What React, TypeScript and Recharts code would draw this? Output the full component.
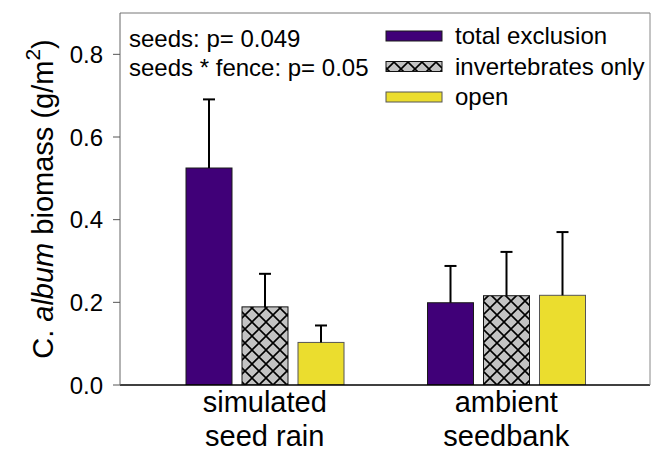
import { BarChart, Bar, XAxis, YAxis, Legend } from 'recharts'

const categoryLines = [
  ['simulated', 'seed rain'],
  ['ambient', 'seedbank'],
]

const totalExclusion = [0.525, 0.199]
const totalExclusionErr = [0.166, 0.089]
const invertebratesOnly = [0.189, 0.216]
const invertebratesOnlyErr = [0.08, 0.106]
const openPlots = [0.103, 0.217]
const openPlotsErr = [0.041, 0.153]

const yTicks = [0, 0.2, 0.4, 0.6, 0.8]
const statLines = ['seeds: p= 0.049', 'seeds * fence: p= 0.05']

const FONT = '"Liberation Sans", Arial, sans-serif'

const series = [
  { key: 'excl', name: 'total exclusion', fill: '#400078', stroke: '#1a1a1a' },
  { key: 'inv', name: 'invertebrates only', fill: 'url(#xhatch)', stroke: '#111' },
  { key: 'open', name: 'open', fill: '#ebdd2e', stroke: '#555' },
]

const data = categoryLines.map((lines, i) => ({
  cat: lines.join(' '),
  excl: totalExclusion[i],
  exclErr: totalExclusionErr[i],
  inv: invertebratesOnly[i],
  invErr: invertebratesOnlyErr[i],
  open: openPlots[i],
  openErr: openPlotsErr[i],
}))

// bar rect plus upward whisker, scaled from the bar's own geometry
function barWithError(key: string, fill: string, stroke: string) {
  return (props: any) => {
    const { x, y, width, height, payload } = props
    const v = payload[key]
    const e = payload[key + 'Err']
    const pxPerUnit = v ? height / v : 0
    const top = y - e * pxPerUnit
    const cx = x + width / 2
    return (
      <g>
        <rect x={x} y={y} width={width} height={height} fill={fill} stroke={stroke} strokeWidth={1} />
        <line x1={cx} y1={y} x2={cx} y2={top} stroke="#000" strokeWidth={2} />
        <line x1={cx - 6} y1={top} x2={cx + 6} y2={top} stroke="#000" strokeWidth={2} />
      </g>
    )
  }
}

function XTick(props: any) {
  const { x, y, payload } = props
  const lines = categoryLines[payload.index] || [payload.value]
  return (
    <text x={x} y={y} textAnchor="middle" fontFamily={FONT} fontSize={29} fill="#000">
      <tspan x={x} dy={27}>{lines[0]}</tspan>
      <tspan x={x} dy={34}>{lines[1]}</tspan>
    </text>
  )
}

function YLabel(props: any) {
  const vb = props.viewBox || { x: 0, y: 13, width: 120, height: 372 }
  const cy = vb.y + vb.height / 2
  return (
    <text
      transform={`translate(53, ${cy}) rotate(-90)`}
      textAnchor="middle"
      fontFamily={FONT}
      fontSize={29}
      fill="#000"
    >
      C. <tspan fontStyle="italic">album</tspan> biomass (g/m
      <tspan dy={-13} fontSize={21}>2</tspan>
      <tspan dy={13}>)</tspan>
    </text>
  )
}

function LegendBox() {
  return (
    <svg width={270} height={100} style={{ display: 'block' }}>
      {series.map((s, i) => (
        <g key={s.key}>
          <rect x={6} y={11 + i * 30.5} width={56} height={10} fill={s.fill} stroke={s.stroke} strokeWidth={1} />
          <text x={75} y={24 + i * 30.5} fontFamily={FONT} fontSize={24} fill="#000">
            {s.name}
          </text>
        </g>
      ))}
    </svg>
  )
}

export default function App() {
  return (
    <div style={{ position: 'absolute', left: 0, top: 0, width: 651, height: 451, background: '#fff' }}>
      <svg width={0} height={0} style={{ position: 'absolute' }}>
        <defs>
          <pattern id="xhatch" patternUnits="userSpaceOnUse" width={14} height={14}>
            <rect width={14} height={14} fill="#c3c3c3" />
            <path d="M0,0 L14,14 M14,0 L0,14" stroke="#000" strokeWidth={1.6} />
          </pattern>
        </defs>
      </svg>
      <BarChart
        width={651}
        height={451}
        data={data}
        margin={{ top: 12, right: 0, bottom: 0, left: 0 }}
        barSize={46}
        barGap={10}
      >
        <XAxis
          dataKey="cat"
          height={66}
          padding={{ left: 24, right: 23 }}
          tickLine={false}
          tickSize={0}
          tickMargin={0}
          axisLine={{ stroke: '#000', strokeWidth: 1.5 }}
          tick={<XTick />}
          interval={0}
        />
        <XAxis
          xAxisId="top"
          dataKey="cat"
          orientation="top"
          height={1}
          tick={false}
          tickLine={false}
          axisLine={{ stroke: '#777' }}
        />
        <YAxis
          width={120}
          domain={[0, 0.9]}
          ticks={yTicks}
          tickFormatter={(v: number) => v.toFixed(1)}
          tickSize={7}
          tickMargin={10}
          tickLine={{ stroke: '#555' }}
          axisLine={{ stroke: '#666' }}
          tick={{ fontFamily: FONT, fontSize: 24, fill: '#000' }}
          allowDataOverflow
          label={<YLabel />}
        />
        <YAxis
          yAxisId="right"
          orientation="right"
          width={1}
          domain={[0, 0.9]}
          tick={false}
          tickLine={false}
          axisLine={{ stroke: '#888' }}
        />
        <Legend
          layout="horizontal"
          verticalAlign="middle"
          align="center"
          wrapperStyle={{ left: 380, top: 20, width: 270, height: 100 }}
          content={() => <LegendBox />}
        />
        {series.map((s) => (
          <Bar
            key={s.key}
            dataKey={s.key}
            name={s.name}
            fill={s.fill}
            isAnimationActive={false}
            shape={barWithError(s.key, s.fill, s.stroke)}
          />
        ))}
      </BarChart>
      <svg width={380} height={90} style={{ position: 'absolute', left: 0, top: 0, pointerEvents: 'none' }}>
        {statLines.map((t, i) => (
          <text key={t} x={129} y={47 + i * 29} fontFamily={FONT} fontSize={24} fill="#000">
            {t}
          </text>
        ))}
      </svg>
    </div>
  )
}
